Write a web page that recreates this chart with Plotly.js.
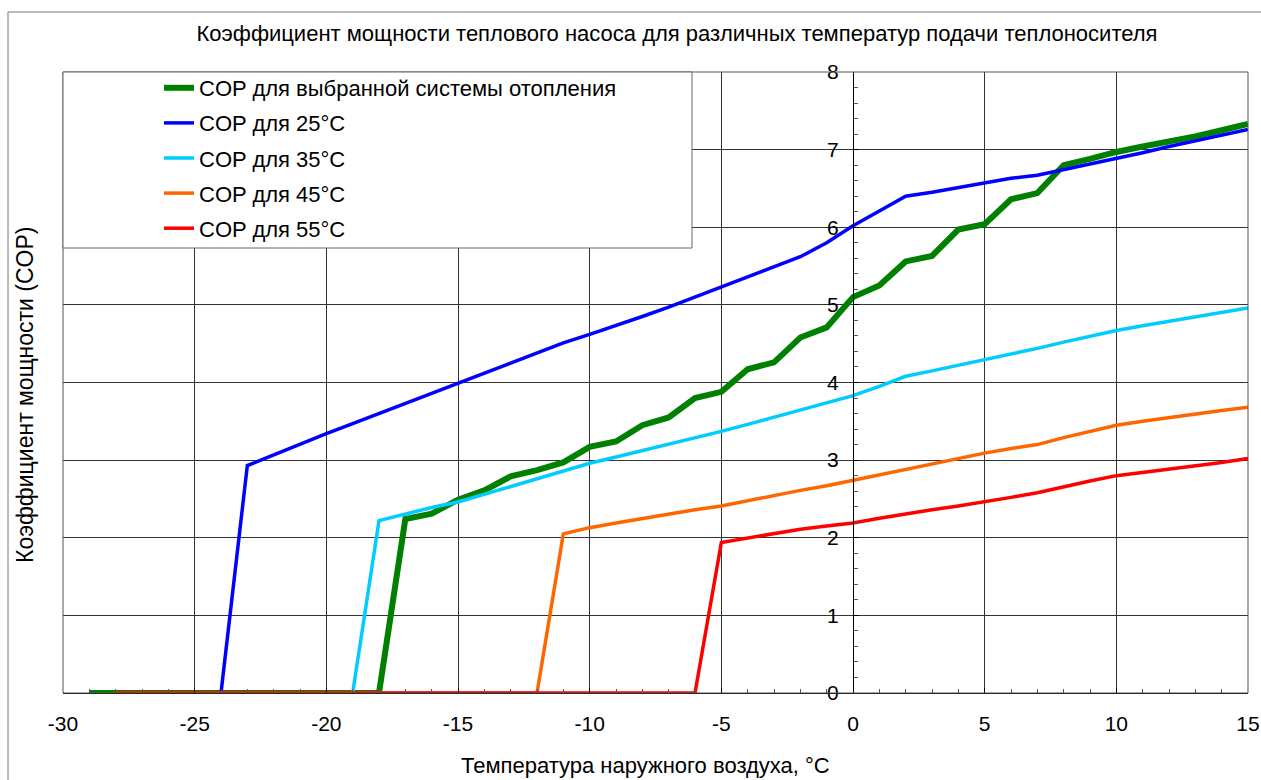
<!DOCTYPE html>
<html>
<head>
<meta charset="utf-8">
<script src="https://cdn.plot.ly/plotly-3.0.1.min.js"></script>
<style>
  html, body { margin: 0; padding: 0; background: #ffffff; }
  #chart { width: 1261px; height: 780px; }
</style>
</head>
<body>
<div id="chart"></div>
<script>
// ---- data ----
const tempSelected = [-29,-28,-27,-26,-25,-24,-23,-22,-21,-20,-19,-18,-17,-16,-15,-14,-13,-12,-11,-10,-9,-8,-7,-6,-5,-4,-3,-2,-1,0,1,2,3,4,5,6,7,8,9,10,11,12,13,14,15];
const copSelected = [0,0,0,0,0,0,0,0,0,0,0,0,2.24,2.31,2.49,2.61,2.79,2.87,2.97,3.17,3.24,3.45,3.55,3.80,3.88,4.17,4.26,4.58,4.71,5.10,5.25,5.56,5.63,5.97,6.04,6.36,6.44,6.80,6.88,6.97,7.04,7.10,7.17,7.25,7.33];

const temp = [-28,-27,-26,-25,-24,-23,-22,-21,-20,-19,-18,-17,-16,-15,-14,-13,-12,-11,-10,-9,-8,-7,-6,-5,-4,-3,-2,-1,0,1,2,3,4,5,6,7,8,9,10,11,12,13,14,15];
const cop25 = [0,0,0,0,0,2.93,3.07,3.20,3.34,3.47,3.60,3.73,3.87,4.00,4.12,4.25,4.38,4.51,4.62,4.73,4.85,4.97,5.10,5.24,5.37,5.49,5.62,5.80,6.02,6.21,6.40,6.45,6.51,6.57,6.63,6.67,6.74,6.81,6.89,6.96,7.04,7.11,7.18,7.26];
const cop35 = [0,0,0,0,0,0,0,0,0,0,2.22,2.31,2.39,2.46,2.56,2.67,2.77,2.86,2.96,3.04,3.12,3.20,3.29,3.37,3.46,3.55,3.64,3.73,3.83,3.95,4.08,4.15,4.22,4.29,4.36,4.44,4.52,4.60,4.67,4.73,4.79,4.85,4.91,4.96];
const cop45 = [0,0,0,0,0,0,0,0,0,0,0,0,0,0,0,0,0,2.05,2.13,2.19,2.25,2.30,2.36,2.41,2.48,2.55,2.61,2.67,2.74,2.82,2.89,2.96,3.03,3.09,3.15,3.20,3.29,3.37,3.45,3.50,3.55,3.60,3.64,3.68];
const cop55 = [0,0,0,0,0,0,0,0,0,0,0,0,0,0,0,0,0,0,0,0,0,0,0,1.94,2.00,2.06,2.11,2.15,2.19,2.25,2.31,2.36,2.41,2.46,2.52,2.58,2.66,2.73,2.80,2.84,2.88,2.92,2.97,3.02];

const seriesNames = ["COP для выбранной системы отопления","COP для 25°C","COP для 35°C","COP для 45°C","COP для 55°C"];
const xTickVals = [-30,-25,-20,-15,-10,-5,0,5,10,15];
const xTickText = ["-30","-25","-20","-15","-10","-5","0","5","10","15"];
const yTickVals = [0,1,2,3,4,5,6,7,8];
const yTickText = ["0","1","2","3","4","5","6","7","8"];

const chartTitle = "Коэффициент мощности теплового насоса для различных температур подачи теплоносителя";
const xTitle = "Температура наружного воздуха, °С";
const yTitle = "Коэффициент мощности (COP)";

// ---- styling ----
const FONT = "Liberation Sans, Arial, sans-serif";
const colors = ["#008000","#0000FF","#00CCFF","#FF6600","#FF0000"];
const widths = [6,3.5,3.5,3.5,3.5];

const xs = [tempSelected, temp, temp, temp, temp];
const ys = [copSelected, cop25, cop35, cop45, cop55];

const traces = ys.map((y, i) => ({
  type: "scatter",
  mode: "lines",
  x: xs[i],
  y: y,
  name: seriesNames[i],
  legendgroup: "g" + i,
  line: { color: colors[i], width: widths[i] },
  hoverinfo: "x+y+name"
}));

const L = 63, R = 13, T = 72, B = 87;
const plotW = 1261 - L - R, plotH = 780 - T - B;
const px2x = p => (p - L) / plotW;
const py2y = p => (780 - B - p) / plotH;

const layout = {
  width: 1261,
  height: 780,
  margin: { l: L, r: R, t: T, b: B, pad: 0 },
  paper_bgcolor: "#ffffff",
  plot_bgcolor: "#ffffff",
  font: { family: FONT, size: 20, color: "#000000" },
  showlegend: true,
  title: {
    text: chartTitle,
    font: { family: FONT, size: 22, color: "#000000" },
    xref: "paper", x: px2x(677), xanchor: "center",
    yref: "container", y: 1 - 33 / 780, yanchor: "middle"
  },
  xaxis: {
    range: [-30, 15],
    tickvals: xTickVals,
    ticktext: xTickText,
    ticks: "inside",
    ticklen: 5,
    tickcolor: "#000000",
    ticklabelstandoff: 12,
    showline: true,
    linecolor: "#000000",
    linewidth: 1,
    showgrid: true,
    gridcolor: "#333333",
    gridwidth: 1,
    zeroline: false,
    minor: { dtick: 1, ticks: "inside", ticklen: 4, tickcolor: "#555555", showgrid: false },
    tickfont: { family: FONT, size: 21, color: "#000000" },
    fixedrange: true
  },
  yaxis: {
    range: [0, 8],
    tickvals: yTickVals,
    ticktext: yTickText,
    anchor: "free",
    position: 30 / 45,
    side: "left",
    ticks: "inside",
    ticklen: 5,
    tickcolor: "#000000",
    ticklabelstandoff: 10,
    showline: true,
    linecolor: "#000000",
    linewidth: 1,
    showgrid: true,
    gridcolor: "#333333",
    gridwidth: 1,
    zeroline: false,
    minor: { dtick: 0.2, ticks: "inside", ticklen: 4, tickcolor: "#555555", showgrid: false },
    tickfont: { family: FONT, size: 21, color: "#000000" },
    fixedrange: true
  },
  legend: {
    x: px2x(159), xanchor: "left",
    y: py2y(67), yanchor: "top",
    bgcolor: "rgba(0,0,0,0)",
    borderwidth: 0,
    traceorder: "grouped",
    tracegroupgap: 3.5,
    font: { family: FONT, size: 22, color: "#000000" }
  },
  shapes: [
    // plot frame
    { type: "rect", xref: "paper", yref: "paper", x0: 0, x1: 1, y0: 0, y1: 1,
      line: { color: "#555555", width: 1 }, layer: "above" },
    // legend box background (covers gridlines)
    { type: "rect", xref: "paper", yref: "paper", x0: 0, x1: px2x(692), y0: py2y(248), y1: 1,
      fillcolor: "#ffffff", line: { color: "#666666", width: 1 }, layer: "above" },
    // outer chart-area border (left and top)
    { type: "line", xref: "paper", yref: "paper", x0: px2x(8), x1: px2x(8), y0: py2y(780), y1: py2y(12),
      line: { color: "#777777", width: 1 } },
    { type: "line", xref: "paper", yref: "paper", x0: px2x(8), x1: px2x(1261), y0: py2y(12), y1: py2y(12),
      line: { color: "#777777", width: 1 } }
  ],
  annotations: [
    { text: xTitle, xref: "paper", yref: "paper", x: px2x(645), y: py2y(765),
      xanchor: "center", yanchor: "middle", showarrow: false,
      font: { family: FONT, size: 22, color: "#000000" } },
    { text: yTitle, xref: "paper", yref: "paper", x: px2x(25), y: py2y(395),
      xanchor: "center", yanchor: "middle", textangle: -90, showarrow: false,
      font: { family: FONT, size: 23, color: "#000000" } }
  ]
};

Plotly.newPlot("chart", traces, layout, { displayModeBar: false, responsive: false });
</script>
</body>
</html>
